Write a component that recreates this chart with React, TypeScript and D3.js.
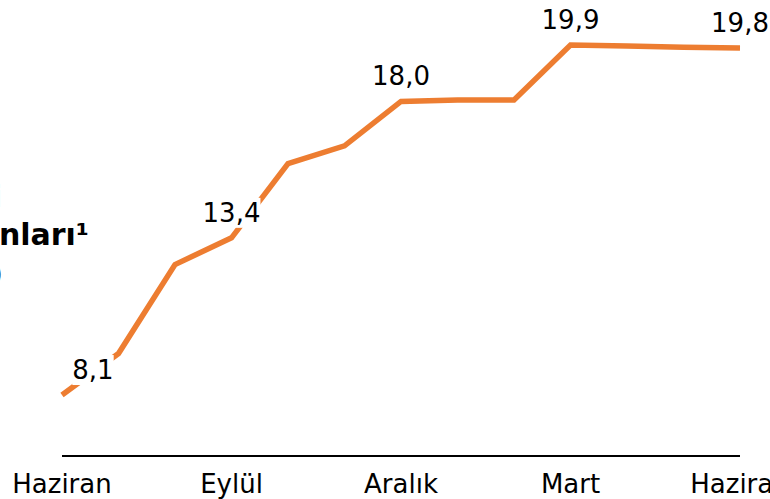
import React, { useEffect, useRef } from "react";
import * as d3 from "d3";

const months = ["Haz", "Tem", "Ağu", "Eyl", "Eki", "Kas", "Ara", "Oca", "Şub", "Mar", "Nis", "May", "Haz2"];
const values = [8.1, 9.5, 12.5, 13.4, 15.9, 16.5, 18.0, 18.05, 18.05, 19.9, 19.87, 19.83, 19.8];
const tickMonths = ["Haz", "Eyl", "Ara", "Mar", "Haz2"];
const tickLabels = ["Haziran", "Eylül", "Aralık", "Mart", "Haziran"];
const labelMonths = ["Haz", "Eyl", "Ara", "Mar", "Haz2"];
const labelTexts = ["8,1", "13,4", "18,0", "19,9", "19,8"];
const titleLines = ["Tüketici kredisi", "Kredi kartı faiz oranları¹", "(%)"];

const W = 770;
const H = 499;
const FONT = "'DejaVu Sans', Verdana, sans-serif";
const ORANGE = "#ED7D31";

export default function App() {
  const ref = useRef<SVGSVGElement | null>(null);

  useEffect(() => {
    const svg = d3.select(ref.current);
    svg.selectAll("*").remove();

    const x = d3.scalePoint<string>().domain(months).range([62, 740]);
    const y = d3.scaleLinear().domain([6, 20]).range([457.3, 42.1]);

    // title (cut off on the left)
    const titleX = [2, 89, 3];
    const titleY = [207, 245, 284];
    titleLines.forEach((t, i) => {
      svg
        .append("text")
        .attr("x", titleX[i])
        .attr("y", titleY[i])
        .attr("text-anchor", "end")
        .attr("font-family", FONT)
        .attr("font-size", 30)
        .attr("font-weight", "bold")
        .attr("fill", "#000")
        .text(t);
    });

    // axis baseline
    svg
      .append("line")
      .attr("x1", x(months[0])!)
      .attr("x2", x(months[months.length - 1])!)
      .attr("y1", 456)
      .attr("y2", 456)
      .attr("stroke", "#000")
      .attr("stroke-width", 2);

    // tick labels
    tickMonths.forEach((m, i) => {
      svg
        .append("text")
        .attr("x", x(m)!)
        .attr("y", 493)
        .attr("text-anchor", "middle")
        .attr("font-family", FONT)
        .attr("font-size", 26)
        .attr("fill", "#000")
        .text(tickLabels[i]);
    });

    // line
    const line = d3
      .line<number>()
      .x((_, i) => x(months[i])!)
      .y((d) => y(d));
    svg
      .append("path")
      .datum(values)
      .attr("d", line)
      .attr("fill", "none")
      .attr("stroke", ORANGE)
      .attr("stroke-width", 5.5)
      .attr("stroke-linejoin", "miter");

    // data labels with white background
    labelMonths.forEach((m, i) => {
      const idx = months.indexOf(m);
      const dx = i === 0 ? 31 : 0;
      const g = svg.append("g");
      const rect = g.append("rect").attr("fill", "#fff");
      const t = g
        .append("text")
        .attr("x", x(m)! + dx)
        .attr("y", y(values[idx]) - 16)
        .attr("text-anchor", "middle")
        .attr("font-family", FONT)
        .attr("font-size", 26)
        .attr("fill", "#000")
        .text(labelTexts[i]);
      const bb = (t.node() as SVGTextElement).getBBox();
      rect
        .attr("x", bb.x)
        .attr("y", bb.y)
        .attr("width", bb.width)
        .attr("height", bb.height);
    });
  }, []);

  return (
    <div style={{ position: "fixed", left: 0, top: 0, width: W, height: H, background: "#fff" }}>
      <svg ref={ref} width={W} height={H} style={{ display: "block" }} />
    </div>
  );
}
